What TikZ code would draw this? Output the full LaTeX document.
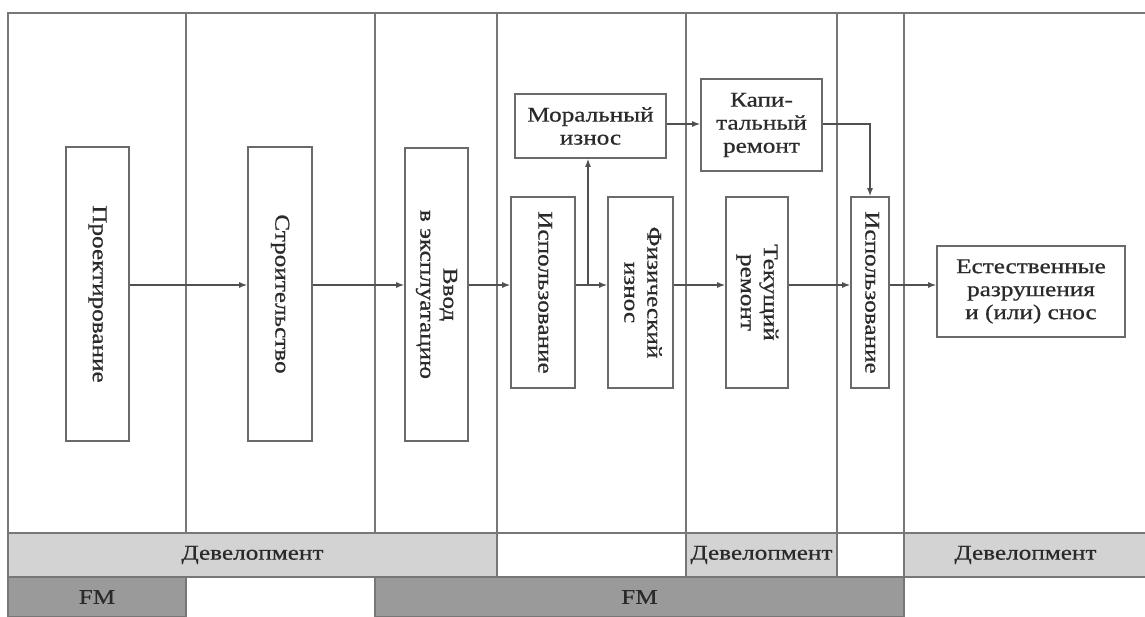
\documentclass[tikz,border=0pt]{standalone}
\usepackage{fontspec}
\setmainfont{Liberation Serif}[FakeStretch=1.2, FakeBold=0.6]
\usetikzlibrary{arrows.meta}

\definecolor{rulegray}{HTML}{777777}
\definecolor{boxgray}{HTML}{6A6A6A}
\definecolor{inkgray}{HTML}{2A2A2A}
\definecolor{devfill}{HTML}{D3D3D3}
\definecolor{fmfill}{HTML}{9A9A9A}

% rotated (top-to-bottom) multi-line label
\newcommand{\vlabel}[1]{\rotatebox{-90}{\begin{tabular}{@{}c@{}}#1\end{tabular}}}

\tikzset{
  txt/.style={font=\fontsize{21}{23}\selectfont, text=inkgray},
  stage/.style={txt, draw=boxgray, line width=1.6pt, fill=white,
                inner sep=0pt, align=center},
  divider/.style={draw=rulegray, line width=1.8pt},
  bar/.style={txt, draw=rulegray, line width=1.6pt, inner sep=0pt, minimum height=44pt},
  devbar/.style={bar, fill=devfill},
  fmbar/.style={bar, fill=fmfill, minimum height=40pt},
  flow/.style={draw=boxgray!75!black, line width=1.4pt,
               -{Latex[length=8pt,width=6pt]}},
}

\begin{document}
\begin{tikzpicture}[x=1pt,y=-1pt]
\useasboundingbox (0,0) rectangle (1145,617);

% bottom bars
\node[devbar, minimum width=489pt] (dev1) at (252.5,555) {Девелопмент};
\node[devbar, minimum width=151pt] (dev2) at (761.5,555) {Девелопмент};
\node[devbar, minimum width=243pt] (dev3) at (1025.5,555) {Девелопмент};
\node[fmbar, minimum width=178pt] (fm1) at (97,597) {FM};
\node[fmbar, minimum width=529pt] (fm2) at (639.5,597) {FM};

% frame and column dividers
\draw[divider] (8,617) -- (8,13) -- (1145,13);
\draw[divider] (8,533) -- (1145,533);
\draw[divider] (8,577) -- (1145,577);
\draw[divider] (186,13) -- (186,533);
\draw[divider] (375,13) -- (375,533);
\draw[divider] (497,13) -- (497,577);
\draw[divider] (686,13) -- (686,577);
\draw[divider] (837,13) -- (837,577);
\draw[divider] (904,13) -- (904,617);

% stages
\node[stage, minimum width=63pt, minimum height=294pt] (proj) at (97.5,294) {\vlabel{Проектирование}};
\node[stage, minimum width=64pt, minimum height=294pt] (stroi) at (280,294) {\vlabel{Строительство}};
\node[stage, minimum width=63pt, minimum height=293pt] (vvod) at (436.5,294.5) {\vlabel{Ввод\\в эксплуатацию}};
\node[stage, minimum width=64pt, minimum height=191pt] (isp1) at (543,292.5) {\vlabel{Использование}};
\node[stage, minimum width=65pt, minimum height=191pt] (fiz) at (640.5,292.5) {\vlabel{Физический\\износ}};
\node[stage, minimum width=151pt, minimum height=64pt] (mor) at (590.5,126) {Моральный\\износ};
\node[stage, minimum width=121pt, minimum height=92pt] (kap) at (761.5,125) {Капи-\\тальный\\ремонт};
\node[stage, minimum width=62pt, minimum height=191pt] (tek) at (757,292.5) {\vlabel{Текущий\\ремонт}};
\node[stage, minimum width=38pt, minimum height=191pt] (isp2) at (870,292.5) {\vlabel{Использование}};
\node[stage, minimum width=188pt, minimum height=91pt] (est) at (1031,291.5) {Естественные\\разрушения\\и (или) снос};

% main flow
\coordinate (lane) at (0,285);
\coordinate (fork) at (588,285);
\draw[flow] (proj.east |- lane) -- (stroi.west |- lane);
\draw[flow] (stroi.east |- lane) -- (vvod.west |- lane);
\draw[flow] (vvod.east |- lane) -- (isp1.west |- lane);
\draw[flow] (isp1.east |- lane) -- (fiz.west |- lane);
\draw[flow] (fork) -- (fork |- mor.south);
\draw[flow] (fiz.east |- lane) -- (tek.west |- lane);
\draw[flow] (tek.east |- lane) -- (isp2.west |- lane);
\draw[flow] (isp2.east |- lane) -- (est.west |- lane);

% upper branch
\coordinate (upper) at (0,124);
\draw[flow] (mor.east |- upper) -- (kap.west |- upper);
\draw[flow] (kap.east |- upper) -| (isp2.north);
\end{tikzpicture}
\end{document}
